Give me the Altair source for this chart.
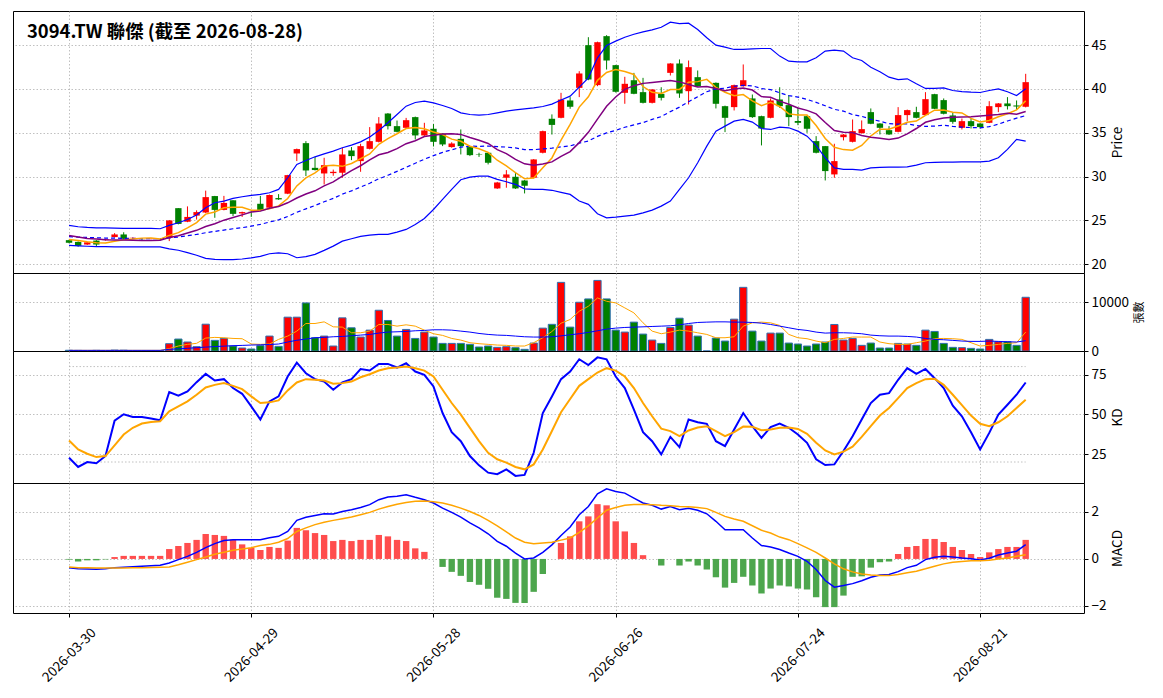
import altair as alt
import pandas as pd

TITLE = "3094.TW 聯傑 (截至 2026-08-28)"
FONT = "Noto Sans CJK TC"

# x tick positions (trading-day index) and their date labels
tick_idx = [0, 20, 40, 60, 80, 100]
tick_labels = ["2026-03-30", "2026-04-29", "2026-05-28", "2026-06-26", "2026-07-24", "2026-08-21"]

# daily OHLC
open_ = [
    22.75, 22.55, 22.25, 22.7, 22.75, 23.1, 23.4, 22.98, 22.78, 22.88,
    22.82, 23.0, 26.4, 24.85, 25.55, 25.9, 27.78, 26.2, 27.3, 25.8,
    25.98, 26.9, 26.45, 27.55, 28.05, 32.64, 33.82, 31.0, 30.36, 30.4,
    30.44, 32.98, 31.77, 33.17, 33.97, 37.2, 35.76, 35.57, 36.79, 34.7,
    35.46, 34.89, 33.37, 34.31, 33.37, 32.55, 32.72, 28.65, 29.87, 29.98,
    29.56, 29.87, 32.72, 36.6, 36.71, 38.69, 40.13, 45.0, 40.44, 46.03,
    42.72, 39.56, 41.0, 39.64, 38.42, 39.45, 41.84, 42.91, 39.75, 41.35,
    40.32, 40.7, 38.04, 37.93, 40.32, 38.92, 36.9, 36.71, 38.8, 38.16,
    36.35, 36.9, 34.05, 33.48, 30.25, 34.5, 33.97, 34.96, 37.36, 36.06,
    35.3, 35.11, 37.02, 37.36, 37.02, 39.41, 38.73, 36.98, 35.57, 36.33,
    36.06, 36.14, 37.93, 38.35, 38.12, 37.97,
]
high = [
    22.8, 22.6, 22.55, 22.75, 22.9, 23.55, 23.65, 23.05, 22.85, 22.95,
    22.85, 25.05, 26.4, 26.6, 26.15, 28.4, 27.8, 27.8, 27.3, 26.0,
    26.0, 27.8, 27.95, 28.0, 30.2, 33.2, 34.05, 32.26, 32.15, 30.8,
    33.3, 33.37, 33.75, 35.65, 36.79, 37.25, 36.4, 36.7, 36.85, 36.14,
    36.0, 34.95, 33.92, 35.38, 33.4, 32.72, 32.75, 29.4, 30.74, 30.44,
    29.6, 32.0, 35.25, 37.1, 39.56, 39.07, 42.03, 45.91, 45.4, 46.14,
    42.75, 41.39, 41.84, 41.27, 40.0, 40.2, 42.95, 43.37, 43.25, 42.11,
    40.32, 40.75, 38.1, 40.5, 42.8, 39.37, 36.95, 38.92, 40.2, 39.3,
    37.85, 36.95, 34.62, 33.5, 33.75, 34.85, 36.52, 36.41, 37.78, 36.1,
    35.76, 37.93, 37.65, 37.97, 39.64, 39.45, 38.92, 37.28, 36.63, 36.63,
    36.1, 38.61, 38.4, 39.07, 38.69, 41.73,
]
low = [
    22.4, 22.0, 22.2, 22.05, 22.7, 23.05, 22.85, 22.95, 22.7, 22.85,
    22.75, 22.64, 24.55, 24.8, 25.1, 25.85, 25.3, 26.15, 25.5, 25.4,
    25.4, 26.05, 26.4, 27.35, 28.0, 31.77, 30.06, 30.7, 29.1, 30.1,
    29.87, 31.88, 30.55, 33.1, 33.9, 35.38, 35.05, 35.5, 34.24, 34.65,
    33.44, 33.48, 33.3, 32.53, 32.34, 32.25, 31.39, 28.6, 28.73, 28.6,
    28.08, 29.8, 32.65, 34.8, 36.65, 37.74, 39.07, 41.0, 40.32, 42.22,
    39.6, 38.31, 39.4, 38.35, 38.35, 38.69, 41.54, 38.99, 38.23, 40.25,
    40.32, 37.78, 35.08, 37.55, 40.25, 36.7, 33.56, 36.65, 37.85, 35.76,
    35.87, 35.0, 32.65, 29.56, 29.87, 34.13, 33.9, 34.9, 35.98, 34.81,
    34.75, 35.05, 36.33, 36.65, 36.95, 37.7, 37.1, 36.03, 35.38, 35.49,
    35.49, 36.1, 37.36, 37.66, 37.66, 37.9,
]
close = [
    22.45, 22.1, 22.5, 22.25, 22.85, 23.4, 22.9, 23.02, 22.75, 22.9,
    22.8, 25.0, 24.6, 25.4, 25.95, 27.66, 26.2, 27.0, 25.75, 25.95,
    25.95, 26.1, 27.9, 27.4, 30.17, 33.14, 30.7, 30.75, 31.31, 30.55,
    32.53, 32.34, 33.48, 34.05, 36.06, 35.76, 35.11, 36.44, 34.7, 35.27,
    33.97, 33.67, 33.78, 33.48, 32.45, 32.5, 31.58, 29.33, 30.25, 28.65,
    28.95, 31.96, 35.19, 35.9, 38.8, 37.97, 41.77, 41.08, 45.34, 43.25,
    39.68, 40.59, 39.45, 38.42, 39.94, 38.99, 42.91, 39.49, 42.49, 40.32,
    40.32, 38.31, 36.71, 40.44, 41.0, 36.79, 35.49, 38.69, 38.04, 36.79,
    36.14, 35.46, 32.72, 30.63, 31.77, 34.8, 35.19, 35.42, 36.03, 35.57,
    34.81, 37.02, 37.59, 36.71, 38.84, 37.74, 37.17, 36.25, 36.33, 35.76,
    35.65, 38.04, 38.35, 38.04, 38.0, 40.78,
]

# moving averages and Bollinger bands
ma5 = [
    22.83, 22.72, 22.57, 22.45, 22.43, 22.62, 22.78, 22.88, 22.98, 22.99,
    22.87, 23.29, 23.61, 24.14, 24.75, 25.72, 25.96, 26.44, 26.51, 26.51,
    26.17, 26.15, 26.33, 26.66, 27.5, 28.94, 29.86, 30.43, 31.21, 31.29,
    31.17, 31.5, 32.04, 32.59, 33.69, 34.34, 34.89, 35.48, 35.61, 35.46,
    35.1, 34.81, 34.28, 34.03, 33.47, 33.18, 32.76, 31.87, 31.22, 30.46,
    29.75, 29.83, 31.0, 32.13, 34.16, 35.96, 37.93, 39.1, 40.99, 41.88,
    42.22, 41.99, 41.66, 40.28, 39.62, 39.48, 39.94, 39.95, 40.76, 40.84,
    41.1, 40.19, 39.63, 39.22, 39.36, 38.65, 38.09, 38.48, 38.0, 37.16,
    37.03, 37.02, 35.83, 34.35, 33.34, 33.08, 33.02, 33.56, 34.64, 35.4,
    35.4, 35.77, 36.2, 36.34, 36.99, 37.58, 37.61, 37.34, 37.27, 36.65,
    36.23, 36.41, 36.83, 37.17, 37.62, 38.64,
]
ma10 = [
    23.29, 23.1, 22.95, 22.87, 22.8, 22.78, 22.76, 22.74, 22.72, 22.71,
    22.75, 23.04, 23.25, 23.56, 23.87, 24.3, 24.63, 25.03, 25.33, 25.63,
    25.95, 26.06, 26.39, 26.59, 27.01, 27.56, 28.01, 28.38, 28.94, 29.4,
    30.06, 30.68, 31.24, 31.9, 32.49, 32.75, 33.19, 33.76, 34.1, 34.57,
    34.72, 34.85, 34.88, 34.82, 34.46, 34.14, 33.78, 33.07, 32.63, 31.97,
    31.46, 31.29, 31.43, 31.68, 32.31, 32.86, 33.88, 35.05, 36.56, 38.02,
    39.09, 39.96, 40.38, 40.64, 40.75, 40.85, 40.97, 40.81, 40.52, 40.23,
    40.29, 40.06, 39.79, 39.99, 40.1, 39.88, 39.13, 39.05, 38.61, 38.26,
    37.84, 37.56, 37.16, 36.18, 35.25, 35.05, 35.02, 34.7, 34.5, 34.37,
    34.24, 34.4, 34.88, 35.49, 36.2, 36.49, 36.69, 36.77, 36.8, 36.82,
    36.91, 37.01, 37.08, 37.22, 37.13, 37.44,
]
bb_mid = [
    23.14, 23.1, 23.06, 23.02, 22.99, 22.99, 22.95, 22.95, 22.91, 22.91,
    22.91, 23.0, 23.1, 23.25, 23.4, 23.6, 23.75, 23.9, 24.05, 24.17,
    24.35, 24.55, 24.82, 25.07, 25.44, 25.93, 26.32, 26.7, 27.13, 27.51,
    28.0, 28.37, 28.81, 29.24, 29.75, 30.15, 30.6, 31.07, 31.52, 31.99,
    32.39, 32.77, 33.06, 33.36, 33.48, 33.45, 33.49, 33.42, 33.37, 33.27,
    33.09, 33.07, 33.16, 33.25, 33.39, 33.5, 33.83, 34.06, 34.59, 34.99,
    35.28, 35.63, 35.91, 36.16, 36.53, 36.85, 37.42, 37.93, 38.54, 39.12,
    39.69, 40.01, 40.09, 40.31, 40.42, 40.36, 40.05, 39.93, 39.57, 39.24,
    39.07, 38.81, 38.47, 38.08, 37.68, 37.47, 37.08, 36.88, 36.55, 36.32,
    36.04, 35.98, 36.02, 35.83, 35.73, 35.77, 35.86, 35.73, 35.65, 35.6,
    35.57, 35.7, 35.98, 36.35, 36.67, 36.96,
]
bb_upper = [
    24.43, 24.28, 24.2, 24.16, 24.16, 24.13, 24.09, 24.09, 24.09, 24.09,
    24.05, 24.43, 24.73, 25.11, 25.61, 26.44, 27.02, 27.2, 27.51, 27.7,
    27.85, 27.97, 28.16, 28.54, 29.87, 31.39, 31.84, 32.26, 32.6, 32.91,
    33.29, 33.59, 33.97, 34.51, 35.27, 36.14, 37.09, 38.04, 38.46, 38.61,
    38.42, 38.12, 37.78, 37.28, 37.09, 37.02, 37.09, 37.28, 37.47, 37.62,
    37.74, 37.85, 38.0, 38.27, 38.75, 39.18, 40.21, 41.27, 43.56, 44.96,
    45.46, 45.91, 46.25, 46.52, 46.75, 47.05, 47.62, 47.47, 47.51, 46.79,
    45.84, 45.0, 44.77, 44.51, 44.51, 44.58, 44.62, 44.62, 43.75, 43.17,
    43.1, 43.1, 43.56, 44.32, 44.43, 44.32, 43.56, 43.25, 42.49, 41.96,
    41.35, 41.08, 41.16, 40.59, 40.06, 40.06, 40.13, 39.83, 39.71, 39.64,
    39.6, 39.83, 40.02, 39.68, 39.26, 40.02,
]
bb_lower = [
    22.15, 22.1, 22.05, 22.0, 22.0, 21.98, 21.98, 21.98, 21.98, 21.98,
    21.98, 21.76, 21.6, 21.33, 21.03, 20.67, 20.55, 20.52, 20.52, 20.6,
    20.72, 20.9, 21.2, 21.3, 21.2, 20.74, 20.86, 21.12, 21.58, 22.07,
    22.64, 22.91, 23.17, 23.33, 23.4, 23.4, 23.67, 23.97, 24.54, 25.23,
    26.25, 27.4, 28.54, 29.64, 29.94, 30.06, 30.06, 29.68, 29.41, 29.11,
    28.61, 28.54, 28.54, 28.44, 28.2, 27.97, 27.21, 26.83, 25.76, 25.3,
    25.38, 25.49, 25.61, 25.87, 26.18, 26.63, 27.21, 28.54, 29.87, 31.58,
    33.48, 35.19, 35.76, 36.33, 36.52, 36.22, 35.49, 35.38, 35.65, 35.57,
    35.19, 34.62, 33.56, 32.15, 31.0, 30.82, 30.82, 30.74, 31.0, 31.05,
    31.08, 31.08, 31.12, 31.31, 31.58, 31.62, 31.65, 31.65, 31.69, 31.69,
    31.69, 31.77, 32.15, 33.1, 34.24, 34.05,
]

# volume (張) and its averages
volume = [
    150, 120, 100, 130, 90, 180, 160, 80, 70, 90,
    80, 1500, 2450, 1840, 880, 5500, 2180, 2580, 1020, 610,
    410, 1090, 3060, 950, 6940, 6940, 9860, 2720, 3060, 1020,
    6800, 4760, 2860, 4280, 8360, 6260, 3060, 4420, 2580, 3880,
    2860, 1560, 1560, 1560, 1360, 820, 1020, 750, 880, 680,
    340, 1630, 4690, 5470, 14080, 4900, 10000, 10680, 14480, 10680,
    4280, 3880, 5920, 3470, 2240, 1560, 4830, 6730, 5300, 3060,
    0, 2650, 2040, 6530, 13060, 4080, 2040, 3670, 3670, 1630,
    1430, 1020, 1430, 1840, 5440, 2240, 2580, 1160, 1630, 610,
    610, 1560, 1430, 1160, 4280, 4010, 1560, 750, 680, 540,
    410, 2380, 1900, 1900, 1160, 11020,
]
vol_ma5 = [
    130, 130, 130, 130, 130, 130, 130, 130, 130, 130,
    130, 480, 1020, 1360, 1570, 2650, 2790, 2720, 2580, 2520,
    1430, 1360, 1430, 2380, 3060, 4080, 5640, 5640, 5980, 4960,
    4900, 3740, 3740, 4080, 5440, 5440, 5100, 5370, 5100, 4280,
    3540, 3200, 2580, 2240, 1700, 1500, 1360, 1220, 1160, 1020,
    1020, 1700, 2720, 4000, 5700, 6460, 8160, 9180, 10880, 10200,
    9860, 8840, 7820, 5780, 4080, 3540, 3880, 4280, 4080, 3740,
    3400, 2720, 2720, 2920, 5100, 5780, 5920, 5780, 5240, 3400,
    2720, 2520, 2040, 1700, 2380, 2580, 2860, 2860, 2860, 1840,
    1500, 1360, 1360, 1700, 2040, 2520, 2580, 2520, 2380, 1700,
    1020, 1160, 1360, 1560, 1700, 3880,
]
vol_ma20 = [
    130, 130, 130, 130, 130, 130, 130, 130, 130, 130,
    130, 340, 450, 550, 680, 800, 900, 1000, 1090, 1150,
    1220, 1270, 1330, 1430, 1840, 2200, 2450, 2720, 2790, 2920,
    2990, 3130, 3260, 3400, 3670, 3880, 3940, 4010, 4150, 4220,
    4350, 4350, 4280, 4080, 3880, 3600, 3400, 3260, 3200, 3060,
    2920, 2860, 2860, 2920, 3100, 3330, 3540, 3810, 4150, 4490,
    4690, 4830, 4900, 4960, 5030, 5100, 5170, 5370, 5640, 5850,
    5920, 5980, 5980, 5920, 5920, 5850, 5710, 5440, 5100, 4760,
    4420, 4220, 3880, 3670, 3740, 3740, 3670, 3540, 3260, 3130,
    3060, 3060, 2990, 2860, 2580, 2380, 2310, 2180, 2040, 1970,
    1970, 2040, 1970, 1900, 1840, 2110,
]

# KD
k_line = [
    22.7, 16.9, 20.0, 19.2, 23.75, 46.0, 50.0, 48.3, 48.3, 47.3,
    46.25, 64.0, 61.7, 64.4, 70.2, 75.4, 71.25, 72.1, 66.5, 62.9,
    55.0, 46.7, 58.1, 61.25, 73.75, 82.5, 75.8, 72.1, 70.6, 65.4,
    70.0, 72.1, 78.5, 77.5, 81.7, 81.7, 79.4, 82.1, 76.9, 74.8,
    67.5, 50.8, 38.75, 33.1, 23.75, 17.9, 13.3, 12.3, 15.4, 11.25,
    11.9, 25.8, 50.8, 61.2, 72.1, 76.9, 84.6, 81.0, 85.8, 84.6,
    73.75, 66.5, 52.9, 38.75, 33.1, 24.8, 35.8, 29.4, 46.7, 45.0,
    44.0, 33.1, 30.0, 40.4, 50.8, 42.5, 35.2, 41.9, 44.2, 41.5,
    37.3, 32.1, 21.7, 18.1, 18.5, 26.9, 36.25, 46.7, 57.1, 62.3,
    63.3, 71.7, 79.0, 75.4, 78.5, 72.7, 66.5, 55.4, 48.75, 38.75,
    27.9, 38.3, 49.8, 56.0, 62.3, 70.0,
]
d_line = [
    33.5, 27.9, 25.2, 23.1, 23.75, 30.4, 37.3, 41.5, 44.2, 45.2,
    45.6, 51.9, 55.0, 58.1, 62.3, 66.9, 68.5, 69.6, 67.9, 65.8,
    61.25, 57.1, 57.5, 58.75, 65.0, 70.0, 72.1, 71.7, 71.25, 69.2,
    69.6, 70.6, 73.3, 75.2, 77.5, 79.0, 79.4, 80.0, 79.0, 77.5,
    73.75, 65.4, 57.1, 49.8, 41.5, 33.1, 25.8, 21.7, 19.6, 16.9,
    15.4, 18.5, 27.9, 39.5, 51.3, 59.6, 67.9, 72.1, 76.25, 79.0,
    77.5, 73.75, 66.5, 57.1, 48.75, 41.0, 39.4, 36.25, 39.8, 41.7,
    42.5, 39.4, 36.25, 38.75, 42.3, 42.1, 40.0, 40.4, 41.5, 41.7,
    40.8, 37.7, 32.1, 27.3, 24.8, 26.5, 29.6, 35.8, 42.5, 49.2,
    54.0, 60.2, 66.5, 69.6, 72.1, 72.3, 68.5, 62.3, 55.8, 49.2,
    44.0, 42.5, 45.0, 48.75, 54.0, 59.2,
]
kd_levels = [80, 20]

# MACD
dif = [
    -0.38, -0.42, -0.43, -0.44, -0.42, -0.37, -0.35, -0.33, -0.31, -0.29,
    -0.27, -0.17, -0.03, 0.11, 0.28, 0.48, 0.65, 0.78, 0.82, 0.82,
    0.82, 0.82, 0.9, 0.96, 1.17, 1.64, 1.77, 1.85, 1.92, 1.91,
    2.02, 2.09, 2.19, 2.31, 2.52, 2.63, 2.67, 2.73, 2.62, 2.52,
    2.38, 2.16, 1.98, 1.78, 1.53, 1.32, 1.07, 0.75, 0.54, 0.25,
    0.0, 0.04, 0.28, 0.6, 1.0, 1.36, 1.88, 2.23, 2.77, 2.98,
    2.87, 2.8, 2.59, 2.38, 2.28, 2.12, 2.23, 2.09, 2.16, 2.07,
    1.92, 1.6, 1.24, 1.24, 1.24, 0.89, 0.57, 0.51, 0.4, 0.25,
    0.11, -0.1, -0.45, -0.92, -1.2, -1.13, -1.05, -0.93, -0.78, -0.68,
    -0.66, -0.54, -0.37, -0.27, -0.03, 0.07, 0.11, 0.08, 0.04, 0.01,
    -0.04, 0.03, 0.17, 0.25, 0.33, 0.61,
]
dea = [
    -0.34, -0.37, -0.38, -0.39, -0.39, -0.39, -0.39, -0.38, -0.37, -0.36,
    -0.35, -0.34, -0.25, -0.14, -0.03, 0.08, 0.2, 0.28, 0.37, 0.42,
    0.48, 0.57, 0.62, 0.71, 0.87, 1.17, 1.32, 1.46, 1.56, 1.64,
    1.71, 1.78, 1.88, 1.98, 2.12, 2.23, 2.33, 2.4, 2.45, 2.46,
    2.43, 2.38, 2.28, 2.16, 2.02, 1.85, 1.64, 1.41, 1.15, 0.89,
    0.71, 0.65, 0.68, 0.71, 0.8, 0.89, 1.13, 1.41, 1.74, 2.07,
    2.19, 2.28, 2.32, 2.32, 2.31, 2.28, 2.26, 2.23, 2.22, 2.19,
    2.14, 1.98, 1.81, 1.7, 1.6, 1.41, 1.22, 1.1, 0.93, 0.82,
    0.65, 0.47, 0.28, 0.04, -0.21, -0.42, -0.55, -0.64, -0.68, -0.71,
    -0.71, -0.66, -0.59, -0.52, -0.42, -0.31, -0.21, -0.14, -0.11, -0.08,
    -0.08, -0.06, 0.0, 0.04, 0.11, 0.18,
]
macd_hist = [
    -0.03, -0.11, -0.06, -0.06, -0.02, 0.08, 0.13, 0.13, 0.13, 0.13,
    0.13, 0.42, 0.55, 0.68, 0.81, 1.06, 1.02, 0.98, 0.82, 0.62,
    0.47, 0.38, 0.51, 0.47, 0.78, 1.32, 1.22, 1.1, 1.02, 0.76,
    0.81, 0.76, 0.81, 0.81, 1.02, 0.96, 0.81, 0.76, 0.45, 0.3,
    0.0, -0.34, -0.55, -0.72, -0.98, -1.1, -1.27, -1.65, -1.7, -1.87,
    -1.87, -1.4, -0.64, 0.0, 0.68, 0.96, 1.6, 1.81, 2.33, 2.28,
    1.6, 1.17, 0.68, 0.16, 0.0, -0.28, 0.0, -0.28, -0.11, -0.28,
    -0.45, -0.78, -1.22, -1.02, -0.76, -1.13, -1.47, -1.26, -1.13, -1.17,
    -1.26, -1.3, -1.63, -2.05, -2.05, -1.56, -0.76, -0.74, -0.37, -0.14,
    -0.11, 0.21, 0.51, 0.55, 0.85, 0.85, 0.72, 0.51, 0.38, 0.21,
    0.08, 0.28, 0.42, 0.51, 0.51, 0.81,
]

df = pd.DataFrame({
    "i": list(range(len(close))),
    "open": open_, "high": high, "low": low, "close": close,
    "ma5": ma5, "ma10": ma10, "bb_mid": bb_mid, "bb_upper": bb_upper, "bb_lower": bb_lower,
    "volume": volume, "vol_ma5": vol_ma5, "vol_ma20": vol_ma20,
    "k": k_line, "d": d_line,
    "dif": dif, "dea": dea, "hist": macd_hist,
})

W = 1071
RED, GREEN = "#ff0000", "#008000"
x_scale = alt.Scale(domain=[-6.15, 111.4], nice=False, zero=False)

grid_axis = alt.Axis(values=tick_idx, labels=False, ticks=False, domain=False, title=None, grid=True)
label_map = "{" + ",".join(f"'{i}':'{s}'" for i, s in zip(tick_idx, tick_labels)) + "}"
date_axis = alt.Axis(
    values=tick_idx, labelExpr=f"{label_map}[datum.value]", labelAngle=-45,
    labelAlign="center", labelBaseline="middle", labelPadding=38, tickSize=4,
    domain=False, title=None, grid=True, labelFlush=False, labelOverlap=False,
)


def y_axis(title, values, size=13.5, expr=None):
    kw = dict(orient="right", values=values, title=title, titleAngle=270, titleBaseline="top",
              titlePadding=5, titleFontSize=size, tickSize=4, domain=False, labelFlush=False,
              grid=True, labelPadding=3, format="d")
    if expr:
        kw["labelExpr"] = expr
    return alt.Axis(**kw)


def panel(y_scale, axis, x_axis=grid_axis):
    base = alt.Chart(df)
    rx = lambda f: alt.X(f"{f}:Q", scale=x_scale, axis=x_axis)
    ry = lambda f: alt.Y(f"{f}:Q", scale=y_scale, axis=axis)

    def line(field, color, width, dash=None):
        kw = dict(color=color, strokeWidth=width)
        if dash:
            kw["strokeDash"] = dash
        return base.mark_line(**kw).encode(x=rx("i"), y=ry(field))

    return base, rx, ry, line


candle_color = alt.condition("datum.close >= datum.open", alt.value(RED), alt.value(GREEN))

# price panel
p_scale = alt.Scale(domain=[19.0, 48.9], nice=False, zero=False)
p_axis = y_axis("Price", [20, 25, 30, 35, 40, 45])
base, rx, ry, line = panel(p_scale, p_axis)
wicks = base.mark_rule(strokeWidth=1).encode(x=rx("i"), y=ry("low"), y2="high:Q", color=candle_color)
bodies = base.transform_calculate(x0="datum.i - 0.35", x1="datum.i + 0.35").mark_rect().encode(
    x=rx("x0"), x2="x1:Q", y=ry("open"), y2="close:Q", color=candle_color)
title = alt.Chart(pd.DataFrame({"t": [TITLE]})).mark_text(
    align="left", baseline="middle", font=FONT, fontSize=18.4, fontWeight="bold", color="black"
).encode(text="t:N", x=alt.value(14), y=alt.value(21))
price = alt.layer(
    wicks, bodies,
    line("bb_upper", "#0000ff", 1.2), line("bb_lower", "#0000ff", 1.2),
    line("bb_mid", "#0000ff", 1.2, [4, 3]),
    line("ma5", "#ffa500", 1.5), line("ma10", "#800080", 1.5),
    title,
).properties(width=W, height=262)

# volume panel
v_scale = alt.Scale(domain=[0, 16000], nice=False, zero=False)
v_axis = y_axis("張數", [0, 10000], size=11)
base, rx, ry, line = panel(v_scale, v_axis)
vbars = base.transform_calculate(x0="datum.i - 0.4", x1="datum.i + 0.4", zero="0").mark_rect(
    stroke="#2f6fb0", strokeWidth=1).encode(
    x=rx("x0"), x2="x1:Q", y=ry("zero"), y2="volume:Q", color=candle_color)
vol = alt.layer(
    vbars, line("vol_ma5", "#ffa500", 1.0), line("vol_ma20", "#0000ff", 1.0),
).properties(width=W, height=78)

# KD panel
k_scale = alt.Scale(domain=[6.8, 89.8], nice=False, zero=False)
k_axis = y_axis("KD", [25, 50, 75])
base, rx, ry, line = panel(k_scale, k_axis)
levels = alt.Chart(pd.DataFrame({"lvl": kd_levels, "x0": [df["i"].iloc[0]] * 2, "x1": [df["i"].iloc[-1]] * 2})
                   ).mark_rule(color="#b0b0b0", strokeWidth=0.8, strokeDash=[1.5, 2]).encode(
    x=rx("x0"), x2="x1:Q", y=alt.Y("lvl:Q", scale=k_scale, axis=k_axis))
kd = alt.layer(
    levels, line("k", "#0000ff", 2.0), line("d", "#ffa500", 2.0),
).properties(width=W, height=132)

# MACD panel
m_scale = alt.Scale(domain=[-2.3, 3.23], nice=False, zero=False)
m_axis = y_axis("MACD", [-2, 0, 2], expr="replace(datum.label, '-', '−')")
base, rx, ry, line = panel(m_scale, m_axis, x_axis=date_axis)
hist_color = alt.condition("datum.hist >= 0", alt.value("#ff4d4d"), alt.value("#4da64d"))
hbars = base.transform_calculate(x0="datum.i - 0.35", x1="datum.i + 0.35", zero="0").mark_rect().encode(
    x=rx("x0"), x2="x1:Q", y=ry("zero"), y2="hist:Q", color=hist_color)
macd = alt.layer(
    hbars, line("dif", "#0000ff", 1.5), line("dea", "#ffa500", 1.5),
).properties(width=W, height=130)

chart = alt.vconcat(price, vol, kd, macd, spacing=0, bounds="flush").properties(
    padding={"left": 4, "top": 2, "right": 5, "bottom": 5}
).configure_view(stroke="black", strokeWidth=1).configure_axis(
    labelFont=FONT, titleFont=FONT, labelFontSize=13.5, titleFontSize=13.5,
    titleFontWeight="normal", labelColor="black", titleColor="black",
    tickColor="black", tickWidth=1, gridColor="#b0b0b0", gridDash=[1.5, 2], gridWidth=0.8,
)

chart.save("out.html", embed_options={"renderer": "svg", "actions": False})
